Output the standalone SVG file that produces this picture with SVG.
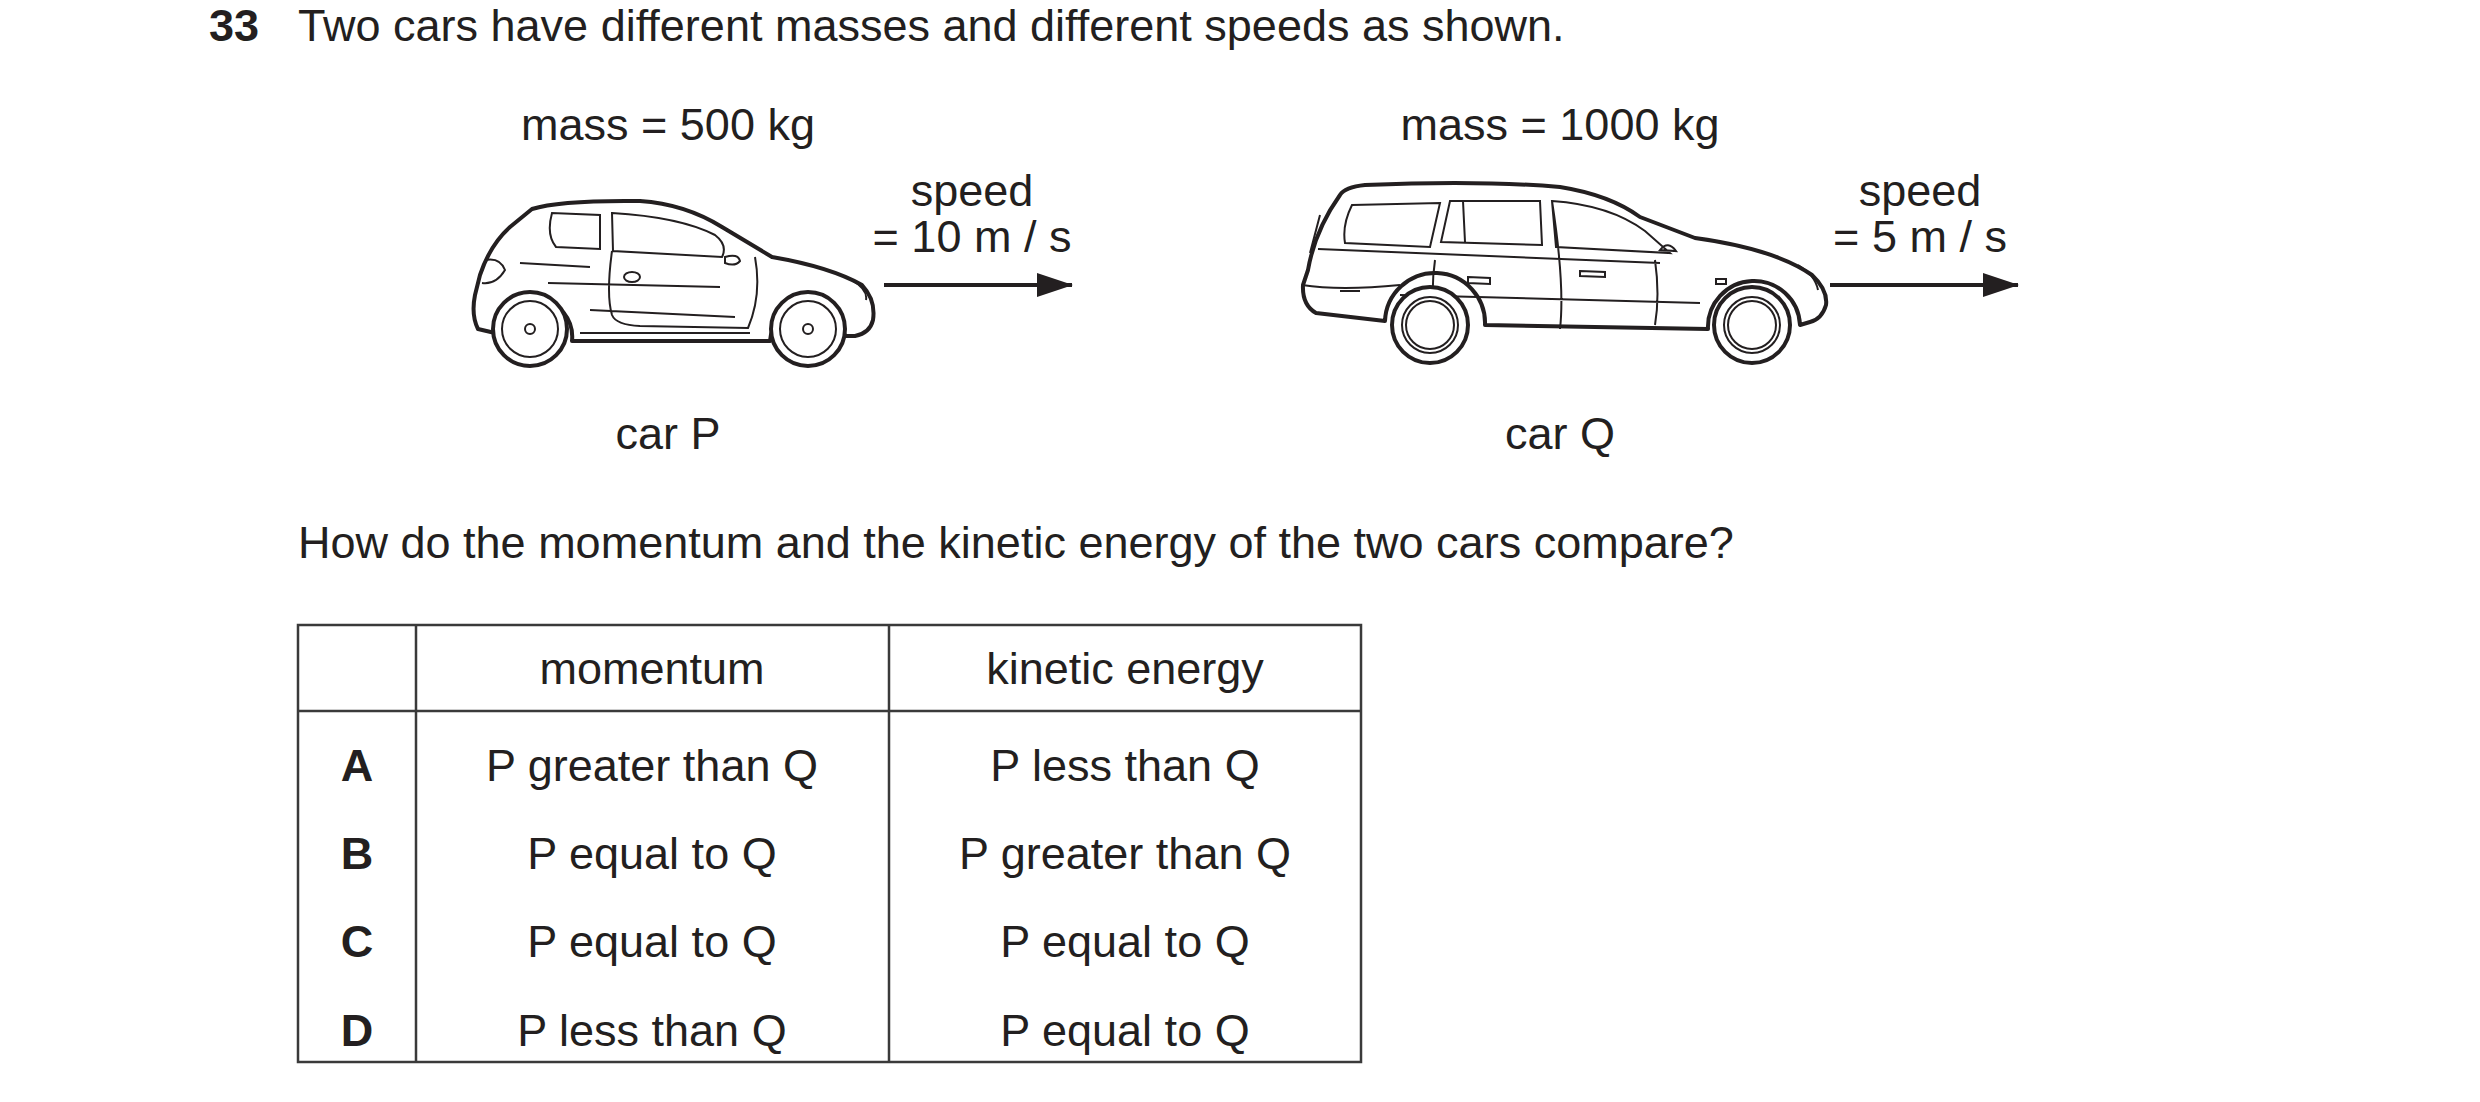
<svg xmlns="http://www.w3.org/2000/svg" width="2480" height="1102" viewBox="0 0 2480 1102">
<style>
text{font-family:"Liberation Sans",Arial,sans-serif;font-size:45px;fill:#231f20}
.c{text-anchor:middle}
.b{font-weight:bold}
.car{fill:#fff;stroke:#231f20;stroke-width:4;stroke-linejoin:round}
.thin{fill:none;stroke:#231f20;stroke-width:2}
.tab{stroke:#3a3a3a;stroke-width:2.5;fill:none}
</style>
<defs>
<marker id="ah2" viewBox="0 0 36 24" refX="35" refY="12" markerWidth="36" markerHeight="24" orient="auto" markerUnits="userSpaceOnUse"><path d="M0,0 L36,12 L0,24 Z" fill="#231f20"/></marker>
</defs>
<rect width="2480" height="1102" fill="#fff"/>
<text x="209" y="41" class="b">33</text>
<text x="298" y="41">Two cars have different masses and different speeds as shown.</text>
<g transform="translate(0,-5)">
<g id="carP">
<text x="668" y="145" class="c">mass = 500 kg</text>
<path class="car" d="M495,338 L478,334 Q471,320 475,300 L480,280 Q490,250 510,232 L532,214 Q560,205 640,206 Q685,209 722,232 L772,262 Q830,272 862,290 Q876,305 873,325 Q870,338 855,341 L845,341 A38,38 0 0 0 770,346 L572,346 A38,38 0 0 0 495,338 Z"/>
<path class="thin" d="M552,218 Q546,240 556,252 L600,254 L600,220 Z M612,218 L613,256 L722,262 Q728,250 715,240 Q680,222 612,218 Z M612,256 Q606,300 612,320 Q616,330 640,331 L748,333 Q762,300 755,262 M520,268 L590,272 M548,288 L720,292 M590,315 L735,322 M580,338 L750,338 M485,265 Q500,262 505,275 Q496,290 482,288"/>
<ellipse cx="632" cy="282" rx="8" ry="5" class="thin"/>
<path class="thin" d="M725,262 Q738,258 740,266 Q735,272 725,268 Z M852,285 Q868,295 866,305"/>
<circle cx="530" cy="334" r="37" class="car"/><circle cx="530" cy="334" r="28" class="thin"/><circle cx="530" cy="334" r="5" class="thin"/>
<circle cx="808" cy="334" r="37" class="car"/><circle cx="808" cy="334" r="28" class="thin"/><circle cx="808" cy="334" r="5" class="thin"/>
<text x="972" y="211" class="c">speed</text>
<text x="972" y="257" class="c">= 10 m / s</text>
<text x="668" y="454" class="c">car P</text>
</g>

<g id="carQ">
<text x="1560" y="145" class="c">mass = 1000 kg</text>
<path class="car" d="M1316,318 Q1302,310 1303,290 L1308,275 Q1315,235 1340,200 Q1345,192 1365,190 Q1480,185 1560,192 Q1610,200 1640,222 L1695,243 Q1775,254 1812,280 Q1828,295 1826,310 Q1822,324 1810,327 L1800,330 A46,46 0 0 0 1708,334 L1485,330 A46,46 0 0 0 1385,326 Z"/>
<path class="thin" d="M1352,210 L1440,208 L1430,252 L1345,248 Q1342,230 1352,210 Z M1450,206 L1540,206 L1542,250 L1441,247 Z M1463,206 L1465,247 M1552,206 Q1610,210 1645,236 L1670,258 L1556,252 Z M1310,258 L1320,220 M1318,254 L1660,268 M1302,290 Q1340,296 1400,290 M1340,296 L1360,296 M1435,265 Q1430,300 1436,330 M1552,206 Q1565,290 1560,334 M1655,265 Q1660,300 1655,330 M1400,300 L1700,308 M1468,282 L1490,283 L1490,289 L1468,288 Z M1580,276 L1605,277 L1605,282 L1580,281 Z M1660,255 Q1668,245 1676,256 Z M1798,270 Q1815,280 1818,295 M1716,284 L1726,284 L1726,289 L1716,289 Z"/>
<circle cx="1430" cy="330" r="38" class="car"/><circle cx="1430" cy="330" r="28" class="thin"/><circle cx="1430" cy="330" r="24" class="thin"/>
<circle cx="1752" cy="330" r="38" class="car"/><circle cx="1752" cy="330" r="28" class="thin"/><circle cx="1752" cy="330" r="24" class="thin"/>
<text x="1920" y="211" class="c">speed</text>
<text x="1920" y="257" class="c">= 5 m / s</text>
<text x="1560" y="454" class="c">car Q</text>
</g>

<g id="connectors">
<line x1="884" y1="290" x2="1072" y2="290" stroke="#231f20" stroke-width="4" marker-end="url(#ah2)"/>
<line x1="1830" y1="290" x2="2018" y2="290" stroke="#231f20" stroke-width="4" marker-end="url(#ah2)"/>
</g>

<text x="298" y="563">How do the momentum and the kinetic energy of the two cars compare?</text>
</g>

<g id="table">
<rect x="298" y="625" width="1063" height="437" class="tab"/>
<line x1="416" y1="625" x2="416" y2="1062" class="tab"/>
<line x1="889" y1="625" x2="889" y2="1062" class="tab"/>
<line x1="298" y1="711" x2="1361" y2="711" class="tab"/>
<text x="652" y="684" class="c">momentum</text>
<text x="1125" y="684" class="c">kinetic energy</text>
<text x="357" y="781" class="c b">A</text>
<text x="652" y="781" class="c">P greater than Q</text>
<text x="1125" y="781" class="c">P less than Q</text>
<text x="357" y="869" class="c b">B</text>
<text x="652" y="869" class="c">P equal to Q</text>
<text x="1125" y="869" class="c">P greater than Q</text>
<text x="357" y="957" class="c b">C</text>
<text x="652" y="957" class="c">P equal to Q</text>
<text x="1125" y="957" class="c">P equal to Q</text>
<text x="357" y="1046" class="c b">D</text>
<text x="652" y="1046" class="c">P less than Q</text>
<text x="1125" y="1046" class="c">P equal to Q</text>
</g>
</svg>
